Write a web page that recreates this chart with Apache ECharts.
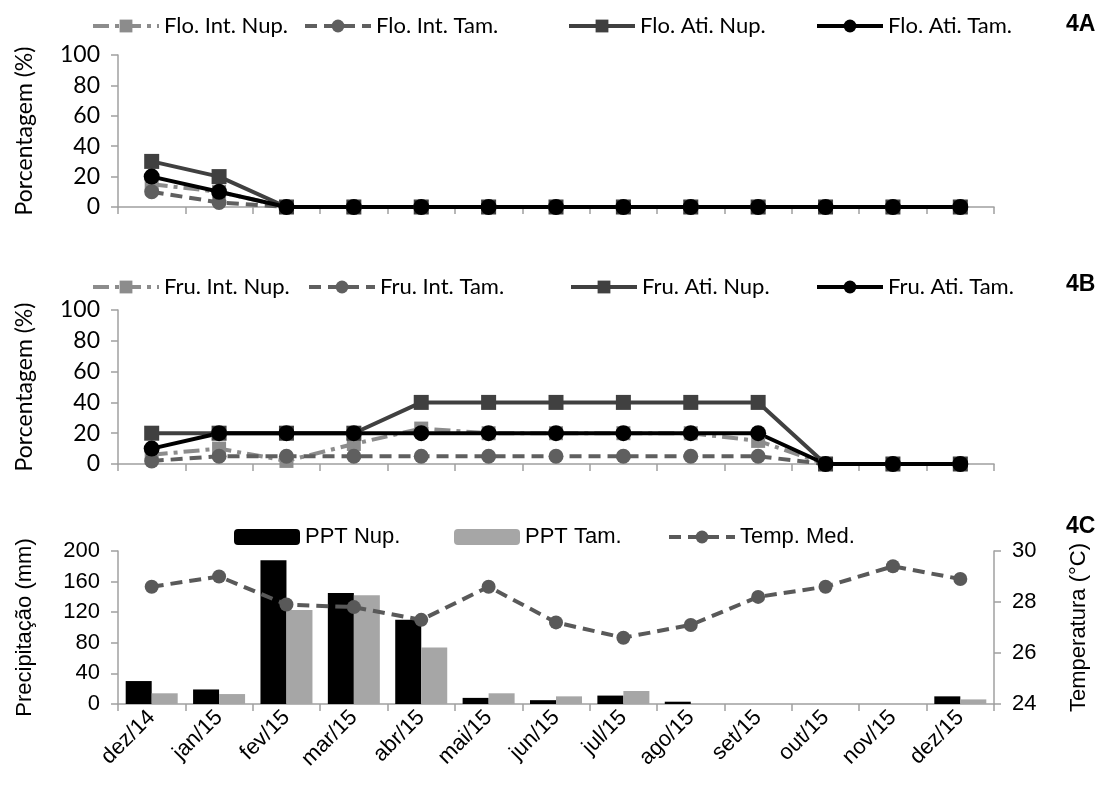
<!DOCTYPE html>
<html><head><meta charset="utf-8">
<script src="https://cdn.jsdelivr.net/npm/echarts@6/dist/echarts.min.js"></script>
<style>html,body{margin:0;padding:0;background:#fff}#c{width:1107px;height:785px}</style>
</head><body><div id="c"></div>
<script>
const months = ['dez/14','jan/15','fev/15','mar/15','abr/15','mai/15','jun/15','jul/15','ago/15','set/15','out/15','nov/15','dez/15'];
// 4A flowering (%)
const floIntNup = [15,10,0,0,0,0,0,0,0,0,0,0,0];
const floIntTam = [10,3,0,0,0,0,0,0,0,0,0,0,0];
const floAtiNup = [30,20,0,0,0,0,0,0,0,0,0,0,0];
const floAtiTam = [20,10,0,0,0,0,0,0,0,0,0,0,0];
// 4B fruiting (%)
const fruIntNup = [6,10,2,13,23,20,20,20,20,15,0,0,0];
const fruIntTam = [2,5,5,5,5,5,5,5,5,5,0,0,0];
const fruAtiNup = [20,20,20,20,40,40,40,40,40,40,0,0,0];
const fruAtiTam = [10,20,20,20,20,20,20,20,20,20,0,0,0];
// 4C climate
const pptNup = [30,19,188,145,110,8,5,11,3,0,0,0,10];
const pptTam = [14,13,123,142,74,14,10,17,0,0,0,0,6];
const tempMed = [28.6,29.0,27.9,27.8,27.3,28.6,27.2,26.6,27.1,28.2,28.6,29.4,28.9];

const axisGray = '#a0a0a0';
const fA = 'Lato, "Liberation Sans", sans-serif';
const fC = '"Liberation Sans", Arial, sans-serif';
const chart = echarts.init(document.getElementById('c'));

function xAx(gi, showLabel) {
  return {
    type: 'category', gridIndex: gi, data: months, boundaryGap: true,
    axisLine: {lineStyle: {color: axisGray, width: 1.5}},
    axisTick: {show: true, length: 7, lineStyle: {color: axisGray, width: 1.5}},
    axisLabel: showLabel ? {show: true, rotate: 45, fontSize: 22, color: '#000', fontFamily: fC, margin: 10, interval: 0} : {show: false}
  };
}
function yPct(gi) {
  return {
    type: 'value', gridIndex: gi, min: 0, max: 100, interval: 20,
    name: 'Porcentagem (%)', nameLocation: 'middle', nameGap: 82,
    nameTextStyle: {fontSize: 23, color: '#000', fontFamily: fA},
    axisLine: {show: true, lineStyle: {color: axisGray, width: 1.5}},
    axisTick: {show: true, length: 7, lineStyle: {color: axisGray, width: 1.5}},
    axisLabel: {fontSize: 23, color: '#000', fontFamily: fA, margin: 18},
    splitLine: {show: false}
  };
}
function lineSeries(name, data, gi, color, symbol, type, size) {
  return {
    name, type: 'line', xAxisIndex: gi, yAxisIndex: gi, data,
    symbol, symbolSize: size, showAllSymbol: true,
    itemStyle: {color},
    lineStyle: {color, width: 4, type},
    z: 2
  };
}
const dashDot = [16, 6, 4, 6];
const dash = [12, 7];

function leg(name, left, top, font, size) {
  return {
    data: [name], top, left, itemWidth: 66, itemHeight: 16, itemGap: 0,
    lineStyle: {width: 4},
    textStyle: {fontSize: size, color: '#000', fontFamily: font}, selectedMode: false
  };
}

const option = {
  animation: false,
  backgroundColor: '#fff',
  title: [
    {text: '4A', left: 1061, top: 8, textStyle: {fontSize: 23, fontWeight: 'bold', color: '#000', fontFamily: fC}},
    {text: '4B', left: 1061, top: 268, textStyle: {fontSize: 23, fontWeight: 'bold', color: '#000', fontFamily: fC}},
    {text: '4C', left: 1061, top: 510, textStyle: {fontSize: 23, fontWeight: 'bold', color: '#000', fontFamily: fC}}
  ],
  legend: [
    leg('Flo. Int. Nup.', 86, 10, fA, 22),
    leg('Flo. Int. Tam.', 298, 10, fA, 22),
    leg('Flo. Ati. Nup.', 562, 10, fA, 22),
    leg('Flo. Ati. Tam.', 810, 10, fA, 22),
    leg('Fru. Int. Nup.', 86, 271, fA, 22),
    leg('Fru. Int. Tam.', 302, 271, fA, 22),
    leg('Fru. Ati. Nup.', 564, 271, fA, 22),
    leg('Fru. Ati. Tam.', 810, 271, fA, 22),
    leg('PPT Nup.', 229, 521, fC, 22),
    leg('PPT Tam.', 449, 521, fC, 22),
    leg('Temp. Med.', 662, 521, fC, 22)
  ],
  grid: [
    {left: 118, right: 113, top: 55, height: 152},
    {left: 118, right: 113, top: 310, height: 154},
    {left: 118, right: 113, top: 551, height: 153}
  ],
  xAxis: [xAx(0, false), xAx(1, false), xAx(2, true)],
  yAxis: [
    yPct(0), yPct(1),
    {type: 'value', gridIndex: 2, min: 0, max: 200, interval: 40,
     name: 'Precipitação (mm)', nameLocation: 'middle', nameGap: 82,
     nameTextStyle: {fontSize: 22, color: '#000', fontFamily: fC},
     axisLine: {show: true, lineStyle: {color: axisGray, width: 1.5}},
     axisTick: {show: true, length: 7, lineStyle: {color: axisGray, width: 1.5}},
     axisLabel: {fontSize: 22, color: '#000', fontFamily: fC, margin: 18}, splitLine: {show: false}},
    {type: 'value', gridIndex: 2, position: 'right', min: 24, max: 30, interval: 2,
     name: 'Temperatura (°C)', nameLocation: 'middle', nameGap: 74, nameRotate: 90,
     nameTextStyle: {fontSize: 22, color: '#000', fontFamily: fC},
     axisLine: {show: true, lineStyle: {color: axisGray, width: 1.5}},
     axisTick: {show: true, length: 7, lineStyle: {color: axisGray, width: 1.5}},
     axisLabel: {fontSize: 22, color: '#000', fontFamily: fC, margin: 18}, splitLine: {show: false}}
  ],
  series: [
    lineSeries('Flo. Int. Nup.', floIntNup, 0, '#8c8c8c', 'rect', dashDot, 14),
    lineSeries('Flo. Int. Tam.', floIntTam, 0, '#5f5f5f', 'circle', dash, 15),
    lineSeries('Flo. Ati. Nup.', floAtiNup, 0, '#404040', 'rect', 'solid', 15),
    lineSeries('Flo. Ati. Tam.', floAtiTam, 0, '#000000', 'circle', 'solid', 16),
    lineSeries('Fru. Int. Nup.', fruIntNup, 1, '#8c8c8c', 'rect', dashDot, 14),
    lineSeries('Fru. Int. Tam.', fruIntTam, 1, '#5f5f5f', 'circle', dash, 15),
    lineSeries('Fru. Ati. Nup.', fruAtiNup, 1, '#404040', 'rect', 'solid', 15),
    lineSeries('Fru. Ati. Tam.', fruAtiTam, 1, '#000000', 'circle', 'solid', 16),
    {name: 'PPT Nup.', type: 'bar', xAxisIndex: 2, yAxisIndex: 2, data: pptNup,
     barWidth: 26, barGap: '0%', itemStyle: {color: '#000000'}},
    {name: 'PPT Tam.', type: 'bar', xAxisIndex: 2, yAxisIndex: 2, data: pptTam,
     barWidth: 26, barGap: '0%', itemStyle: {color: '#a6a6a6'}},
    {name: 'Temp. Med.', type: 'line', xAxisIndex: 2, yAxisIndex: 3, data: tempMed,
     symbol: 'circle', symbolSize: 14, itemStyle: {color: '#595959'},
     lineStyle: {color: '#595959', width: 4, type: [12, 7]}, z: 3}
  ]
};
chart.setOption(option);
</script></body></html>
